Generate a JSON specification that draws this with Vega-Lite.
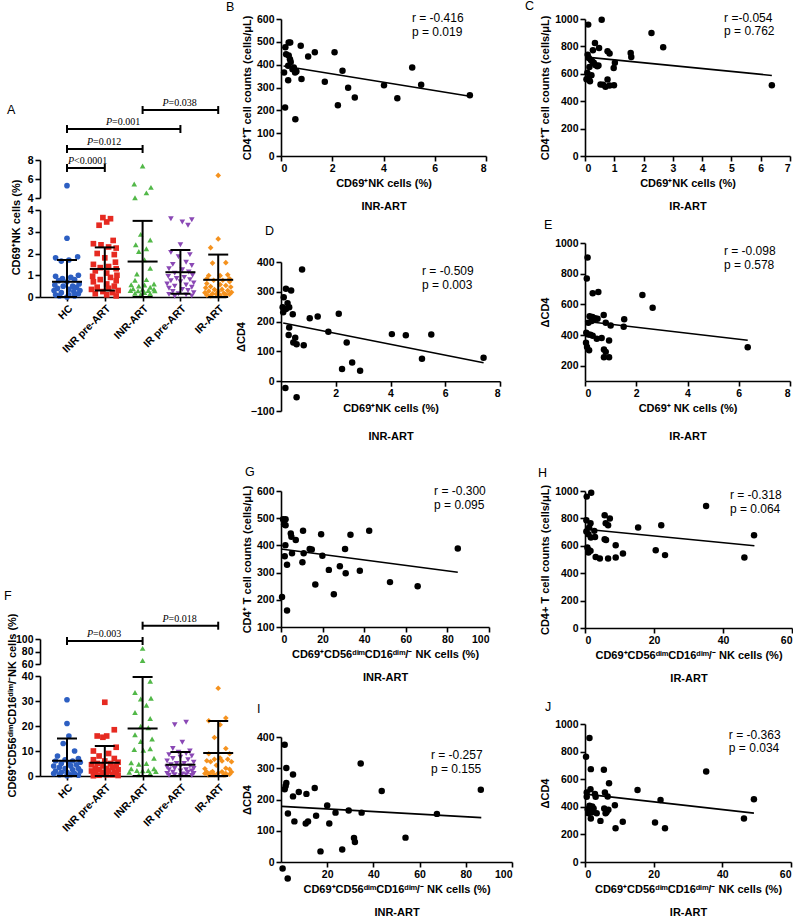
{
"$schema":"https://vega.github.io/schema/vega-lite/v6.json",
"padding":{"left":4,"top":0,"right":0,"bottom":0},
"spacing":-9,
"resolve":{"scale":{"xOffset":"independent"}},
"config":{
 "font":"Liberation Sans",
 "numberFormat":"d",
 "view":{"stroke":null},
 "axis":{"grid":false,"domainColor":"#000","domainWidth":1.6,"tickColor":"#000","tickWidth":1.6,"tickSize":5,"labelColor":"#000","labelFontSize":10.5,"labelFontWeight":"bold","labelFont":"Liberation Sans","titleColor":"#000","titleFontSize":11,"titleFontWeight":"bold","titleFont":"Liberation Sans","labelPadding":2,"titlePadding":4,"labelOverlap":false},
 "title":{"fontSize":12.5,"fontWeight":"normal","font":"Liberation Sans","color":"#000","anchor":"start","frame":"group","offset":0,"baseline":"bottom","orient":"top"}
},
"datasets":{
 "A":[
  {"g":"HC","v":5.3,"j":0},{"g":"HC","v":2.7,"j":0},{"g":"HC","v":1.85,"j":0.28},{"g":"HC","v":1.8,"j":-0.3},{"g":"HC","v":1.7,"j":0.05},{"g":"HC","v":1.65,"j":-0.15},{"g":"HC","v":1.0,"j":0.3},{"g":"HC","v":0.95,"j":-0.3},{"g":"HC","v":0.9,"j":0.1},{"g":"HC","v":0.85,"j":-0.12},{"g":"HC","v":0.8,"j":0.2},{"g":"HC","v":0.75,"j":-0.22},{"g":"HC","v":0.7,"j":0},{"g":"HC","v":0.6,"j":0.32},{"g":"HC","v":0.55,"j":-0.32},{"g":"HC","v":0.5,"j":0.15},{"g":"HC","v":0.5,"j":-0.1},{"g":"HC","v":0.45,"j":0.25},{"g":"HC","v":0.4,"j":-0.25},{"g":"HC","v":0.35,"j":0.05},{"g":"HC","v":0.3,"j":0.34},{"g":"HC","v":0.3,"j":-0.34},{"g":"HC","v":0.25,"j":0.18},{"g":"HC","v":0.2,"j":-0.15},{"g":"HC","v":0.15,"j":0.3},{"g":"HC","v":0.1,"j":-0.3},{"g":"HC","v":0.1,"j":0.05},{"g":"HC","v":0.05,"j":0.2},{"g":"HC","v":0.05,"j":-0.2},{"g":"HC","v":0.0,"j":0},
  {"g":"INR pre-ART","v":3.65,"j":-0.05},{"g":"INR pre-ART","v":3.6,"j":0.15},{"g":"INR pre-ART","v":3.45,"j":0.05},{"g":"INR pre-ART","v":3.3,"j":-0.15},{"g":"INR pre-ART","v":2.6,"j":0.22},{"g":"INR pre-ART","v":2.45,"j":-0.3},{"g":"INR pre-ART","v":2.4,"j":-0.1},{"g":"INR pre-ART","v":2.3,"j":0.1},{"g":"INR pre-ART","v":2.25,"j":0.3},{"g":"INR pre-ART","v":2.0,"j":-0.2},{"g":"INR pre-ART","v":1.95,"j":0.25},{"g":"INR pre-ART","v":1.8,"j":0},{"g":"INR pre-ART","v":1.6,"j":0.28},{"g":"INR pre-ART","v":1.5,"j":-0.3},{"g":"INR pre-ART","v":1.4,"j":0.1},{"g":"INR pre-ART","v":1.35,"j":-0.12},{"g":"INR pre-ART","v":1.3,"j":0.3},{"g":"INR pre-ART","v":1.2,"j":-0.25},{"g":"INR pre-ART","v":1.1,"j":0.05},{"g":"INR pre-ART","v":1.0,"j":0.32},{"g":"INR pre-ART","v":0.95,"j":-0.32},{"g":"INR pre-ART","v":0.9,"j":0.15},{"g":"INR pre-ART","v":0.8,"j":-0.12},{"g":"INR pre-ART","v":0.75,"j":0.3},{"g":"INR pre-ART","v":0.7,"j":-0.3},{"g":"INR pre-ART","v":0.6,"j":0.05},{"g":"INR pre-ART","v":0.5,"j":0.25},{"g":"INR pre-ART","v":0.45,"j":-0.2},{"g":"INR pre-ART","v":0.4,"j":0.1},{"g":"INR pre-ART","v":0.35,"j":-0.35},{"g":"INR pre-ART","v":0.3,"j":0.35},{"g":"INR pre-ART","v":0.25,"j":-0.05},{"g":"INR pre-ART","v":0.2,"j":0.2},{"g":"INR pre-ART","v":0.15,"j":-0.25},{"g":"INR pre-ART","v":0.1,"j":0.05},{"g":"INR pre-ART","v":0.05,"j":0.3},
  {"g":"INR-ART","v":7.37,"j":0},{"g":"INR-ART","v":5.47,"j":-0.22},{"g":"INR-ART","v":5.12,"j":0.22},{"g":"INR-ART","v":4.54,"j":0.1},{"g":"INR-ART","v":4.02,"j":-0.2},{"g":"INR-ART","v":2.88,"j":-0.05},{"g":"INR-ART","v":2.62,"j":0.2},{"g":"INR-ART","v":2.4,"j":-0.18},{"g":"INR-ART","v":2.22,"j":0.1},{"g":"INR-ART","v":2.09,"j":-0.1},{"g":"INR-ART","v":1.71,"j":0.05},{"g":"INR-ART","v":1.32,"j":0.2},{"g":"INR-ART","v":1.06,"j":-0.15},{"g":"INR-ART","v":0.8,"j":0.1},{"g":"INR-ART","v":0.77,"j":-0.2},{"g":"INR-ART","v":0.6,"j":0.3},{"g":"INR-ART","v":0.56,"j":-0.3},{"g":"INR-ART","v":0.55,"j":0.05},{"g":"INR-ART","v":0.5,"j":-0.1},{"g":"INR-ART","v":0.45,"j":0.2},{"g":"INR-ART","v":0.38,"j":-0.25},{"g":"INR-ART","v":0.36,"j":0.3},{"g":"INR-ART","v":0.35,"j":0},{"g":"INR-ART","v":0.3,"j":-0.32},{"g":"INR-ART","v":0.3,"j":0.15},{"g":"INR-ART","v":0.28,"j":-0.12},{"g":"INR-ART","v":0.28,"j":0.32},{"g":"INR-ART","v":0.2,"j":0.05},{"g":"INR-ART","v":0.17,"j":-0.2},{"g":"INR-ART","v":0.16,"j":0.2},{"g":"INR-ART","v":0.12,"j":-0.05},
  {"g":"IR pre-ART","v":3.6,"j":-0.25},{"g":"IR pre-ART","v":3.55,"j":0.3},{"g":"IR pre-ART","v":3.45,"j":0.05},{"g":"IR pre-ART","v":3.3,"j":0.2},{"g":"IR pre-ART","v":2.4,"j":0},{"g":"IR pre-ART","v":2.05,"j":-0.25},{"g":"IR pre-ART","v":1.95,"j":0.25},{"g":"IR pre-ART","v":1.85,"j":-0.05},{"g":"IR pre-ART","v":1.6,"j":0.15},{"g":"IR pre-ART","v":1.5,"j":-0.2},{"g":"IR pre-ART","v":1.45,"j":0.3},{"g":"IR pre-ART","v":1.3,"j":-0.3},{"g":"IR pre-ART","v":1.25,"j":0.05},{"g":"IR pre-ART","v":1.15,"j":0.22},{"g":"IR pre-ART","v":1.1,"j":-0.15},{"g":"IR pre-ART","v":1.0,"j":0.32},{"g":"IR pre-ART","v":0.95,"j":-0.32},{"g":"IR pre-ART","v":0.9,"j":0.1},{"g":"IR pre-ART","v":0.85,"j":-0.1},{"g":"IR pre-ART","v":0.8,"j":0.25},{"g":"IR pre-ART","v":0.75,"j":-0.25},{"g":"IR pre-ART","v":0.7,"j":0},{"g":"IR pre-ART","v":0.65,"j":0.35},{"g":"IR pre-ART","v":0.6,"j":-0.35},{"g":"IR pre-ART","v":0.55,"j":0.15},{"g":"IR pre-ART","v":0.5,"j":-0.15},{"g":"IR pre-ART","v":0.45,"j":0.3},{"g":"IR pre-ART","v":0.4,"j":-0.3},{"g":"IR pre-ART","v":0.35,"j":0.05},{"g":"IR pre-ART","v":0.3,"j":0.2},{"g":"IR pre-ART","v":0.25,"j":-0.2},{"g":"IR pre-ART","v":0.2,"j":0.35},{"g":"IR pre-ART","v":0.15,"j":-0.05},{"g":"IR pre-ART","v":0.12,"j":-0.3},{"g":"IR pre-ART","v":0.1,"j":0.15},{"g":"IR pre-ART","v":0.05,"j":0.3},{"g":"IR pre-ART","v":0.03,"j":-0.15},
  {"g":"IR-ART","v":6.38,"j":0},{"g":"IR-ART","v":2.67,"j":0},{"g":"IR-ART","v":2.27,"j":-0.2},{"g":"IR-ART","v":1.58,"j":0.2},{"g":"IR-ART","v":1.56,"j":-0.15},{"g":"IR-ART","v":1.02,"j":0.25},{"g":"IR-ART","v":0.99,"j":-0.25},{"g":"IR-ART","v":0.98,"j":0.05},{"g":"IR-ART","v":0.84,"j":0.3},{"g":"IR-ART","v":0.84,"j":-0.3},{"g":"IR-ART","v":0.77,"j":0.12},{"g":"IR-ART","v":0.77,"j":-0.12},{"g":"IR-ART","v":0.7,"j":0.3},{"g":"IR-ART","v":0.62,"j":-0.3},{"g":"IR-ART","v":0.57,"j":0.05},{"g":"IR-ART","v":0.53,"j":0.2},{"g":"IR-ART","v":0.48,"j":-0.2},{"g":"IR-ART","v":0.46,"j":0.33},{"g":"IR-ART","v":0.42,"j":-0.33},{"g":"IR-ART","v":0.35,"j":0.1},{"g":"IR-ART","v":0.34,"j":-0.1},{"g":"IR-ART","v":0.3,"j":0.25},{"g":"IR-ART","v":0.27,"j":-0.25},{"g":"IR-ART","v":0.25,"j":0},{"g":"IR-ART","v":0.22,"j":0.35},{"g":"IR-ART","v":0.2,"j":-0.35},{"g":"IR-ART","v":0.17,"j":0.15},{"g":"IR-ART","v":0.15,"j":-0.15},{"g":"IR-ART","v":0.13,"j":0.3},{"g":"IR-ART","v":0.13,"j":-0.05},{"g":"IR-ART","v":0.11,"j":0.2},{"g":"IR-ART","v":0.09,"j":-0.3},{"g":"IR-ART","v":0.08,"j":0.05},{"g":"IR-ART","v":0.05,"j":-0.2}
 ],
 "Asum":[{"g":"HC","m":0.7,"lo":0,"hi":1.7},{"g":"INR pre-ART","m":1.29,"lo":0.3,"hi":2.28},{"g":"INR-ART","m":1.63,"lo":0,"hi":3.5},{"g":"IR pre-ART","m":1.14,"lo":0.15,"hi":2.16},{"g":"IR-ART","m":0.79,"lo":0,"hi":1.95}],
 "Abr":[{"g1":"HC","g2":"INR pre-ART","lv":7.16,"h":0.5,"t":"<0.0001"},{"g1":"HC","g2":"INR-ART","lv":9.16,"h":1,"t":"=0.012"},{"g1":"HC","g2":"IR pre-ART","lv":11.26,"h":1.5,"t":"=0.001"},{"g1":"INR-ART","g2":"IR-ART","lv":13.26,"h":1,"t":"=0.038"}],
 "F":[
  {"g":"HC","v":30.5,"j":0},{"g":"HC","v":21,"j":0},{"g":"HC","v":16,"j":0.05},{"g":"HC","v":13,"j":-0.1},{"g":"HC","v":10,"j":0.2},{"g":"HC","v":8,"j":-0.25},{"g":"HC","v":7,"j":0.3},{"g":"HC","v":6.5,"j":-0.05},{"g":"HC","v":6,"j":0.15},{"g":"HC","v":6,"j":-0.3},{"g":"HC","v":5.5,"j":0.35},{"g":"HC","v":5,"j":-0.15},{"g":"HC","v":5,"j":0.05},{"g":"HC","v":4.5,"j":0.25},{"g":"HC","v":4,"j":-0.35},{"g":"HC","v":4,"j":0.1},{"g":"HC","v":3.5,"j":-0.2},{"g":"HC","v":3,"j":0.3},{"g":"HC","v":3,"j":-0.05},{"g":"HC","v":2.5,"j":0.15},{"g":"HC","v":2,"j":-0.3},{"g":"HC","v":2,"j":0.35},{"g":"HC","v":1.5,"j":0},{"g":"HC","v":1.5,"j":-0.15},{"g":"HC","v":1,"j":0.2},{"g":"HC","v":1,"j":-0.35},{"g":"HC","v":0.5,"j":0.1},{"g":"HC","v":0.5,"j":-0.2},{"g":"HC","v":0.3,"j":0.3},{"g":"HC","v":0.1,"j":0},
  {"g":"INR pre-ART","v":29.5,"j":0},{"g":"INR pre-ART","v":18.5,"j":0.25},{"g":"INR pre-ART","v":16,"j":-0.2},{"g":"INR pre-ART","v":16,"j":0.05},{"g":"INR pre-ART","v":15.5,"j":-0.05},{"g":"INR pre-ART","v":11.5,"j":0.3},{"g":"INR pre-ART","v":10,"j":-0.3},{"g":"INR pre-ART","v":9,"j":0.1},{"g":"INR pre-ART","v":8,"j":-0.15},{"g":"INR pre-ART","v":7,"j":0.25},{"g":"INR pre-ART","v":6.5,"j":-0.3},{"g":"INR pre-ART","v":6,"j":0},{"g":"INR pre-ART","v":5.5,"j":0.35},{"g":"INR pre-ART","v":5,"j":-0.2},{"g":"INR pre-ART","v":5,"j":0.15},{"g":"INR pre-ART","v":4.5,"j":-0.35},{"g":"INR pre-ART","v":4,"j":0.3},{"g":"INR pre-ART","v":4,"j":-0.05},{"g":"INR pre-ART","v":3.5,"j":0.2},{"g":"INR pre-ART","v":3,"j":-0.25},{"g":"INR pre-ART","v":3,"j":0.05},{"g":"INR pre-ART","v":2.5,"j":0.35},{"g":"INR pre-ART","v":2.5,"j":-0.15},{"g":"INR pre-ART","v":2,"j":0.1},{"g":"INR pre-ART","v":2,"j":-0.35},{"g":"INR pre-ART","v":1.5,"j":0.25},{"g":"INR pre-ART","v":1.5,"j":-0.05},{"g":"INR pre-ART","v":1,"j":0.3},{"g":"INR pre-ART","v":1,"j":-0.25},{"g":"INR pre-ART","v":0.5,"j":0.05},{"g":"INR pre-ART","v":0.5,"j":0.2},{"g":"INR pre-ART","v":0.3,"j":-0.15},{"g":"INR pre-ART","v":0.2,"j":0.35},{"g":"INR pre-ART","v":0.1,"j":-0.3},
  {"g":"INR-ART","v":85,"j":0},{"g":"INR-ART","v":65.7,"j":0},{"g":"INR-ART","v":52.4,"j":0},{"g":"INR-ART","v":42.4,"j":0},{"g":"INR-ART","v":37.9,"j":0.2},{"g":"INR-ART","v":33.4,"j":-0.2},{"g":"INR-ART","v":31.1,"j":0.22},{"g":"INR-ART","v":30.8,"j":-0.05},{"g":"INR-ART","v":28.3,"j":0.1},{"g":"INR-ART","v":25.4,"j":-0.2},{"g":"INR-ART","v":23,"j":0.2},{"g":"INR-ART","v":19.9,"j":-0.05},{"g":"INR-ART","v":19.3,"j":0.15},{"g":"INR-ART","v":16.5,"j":-0.2},{"g":"INR-ART","v":14.8,"j":0.25},{"g":"INR-ART","v":13.8,"j":-0.05},{"g":"INR-ART","v":10.9,"j":0.2},{"g":"INR-ART","v":10.6,"j":-0.22},{"g":"INR-ART","v":10.3,"j":0.02},{"g":"INR-ART","v":7.1,"j":0.3},{"g":"INR-ART","v":5.3,"j":-0.3},{"g":"INR-ART","v":5,"j":0.1},{"g":"INR-ART","v":4.7,"j":-0.1},{"g":"INR-ART","v":2.9,"j":0.3},{"g":"INR-ART","v":2.9,"j":-0.3},{"g":"INR-ART","v":2.2,"j":0.15},{"g":"INR-ART","v":2.2,"j":-0.15},{"g":"INR-ART","v":2.1,"j":0},{"g":"INR-ART","v":1.8,"j":0.35},{"g":"INR-ART","v":1.5,"j":-0.35},{"g":"INR-ART","v":1,"j":0.2},{"g":"INR-ART","v":0.5,"j":-0.1},
  {"g":"IR pre-ART","v":21.5,"j":0.15},{"g":"IR pre-ART","v":20.5,"j":-0.15},{"g":"IR pre-ART","v":13.5,"j":0.05},{"g":"IR pre-ART","v":11,"j":-0.2},{"g":"IR pre-ART","v":10,"j":0.25},{"g":"IR pre-ART","v":9.5,"j":-0.05},{"g":"IR pre-ART","v":9,"j":0.15},{"g":"IR pre-ART","v":8.5,"j":-0.3},{"g":"IR pre-ART","v":8,"j":0.3},{"g":"IR pre-ART","v":7.5,"j":0},{"g":"IR pre-ART","v":7,"j":-0.2},{"g":"IR pre-ART","v":6.5,"j":0.2},{"g":"IR pre-ART","v":6,"j":-0.35},{"g":"IR pre-ART","v":5.5,"j":0.35},{"g":"IR pre-ART","v":5,"j":-0.1},{"g":"IR pre-ART","v":5,"j":0.1},{"g":"IR pre-ART","v":4.5,"j":-0.25},{"g":"IR pre-ART","v":4,"j":0.25},{"g":"IR pre-ART","v":4,"j":0},{"g":"IR pre-ART","v":3.5,"j":-0.35},{"g":"IR pre-ART","v":3,"j":0.35},{"g":"IR pre-ART","v":3,"j":-0.15},{"g":"IR pre-ART","v":2.5,"j":0.15},{"g":"IR pre-ART","v":2.5,"j":-0.3},{"g":"IR pre-ART","v":2,"j":0.3},{"g":"IR pre-ART","v":2,"j":0},{"g":"IR pre-ART","v":1.5,"j":-0.2},{"g":"IR pre-ART","v":1.5,"j":0.2},{"g":"IR pre-ART","v":1,"j":-0.35},{"g":"IR pre-ART","v":1,"j":0.35},{"g":"IR pre-ART","v":0.8,"j":0.05},{"g":"IR pre-ART","v":0.5,"j":-0.15},{"g":"IR pre-ART","v":0.5,"j":0.15},{"g":"IR pre-ART","v":0.3,"j":-0.3},{"g":"IR pre-ART","v":0.2,"j":0.3},{"g":"IR pre-ART","v":0.1,"j":0},
  {"g":"IR-ART","v":49,"j":0},{"g":"IR-ART","v":46.2,"j":0},{"g":"IR-ART","v":35.1,"j":0},{"g":"IR-ART","v":23.2,"j":0.2},{"g":"IR-ART","v":22.1,"j":-0.25},{"g":"IR-ART","v":20.5,"j":0.05},{"g":"IR-ART","v":15.4,"j":-0.1},{"g":"IR-ART","v":11,"j":0.2},{"g":"IR-ART","v":8.9,"j":-0.25},{"g":"IR-ART","v":8.9,"j":0.3},{"g":"IR-ART","v":7.2,"j":0.05},{"g":"IR-ART","v":6.7,"j":-0.1},{"g":"IR-ART","v":6.7,"j":0.25},{"g":"IR-ART","v":6.1,"j":-0.3},{"g":"IR-ART","v":6,"j":0.1},{"g":"IR-ART","v":5.7,"j":-0.2},{"g":"IR-ART","v":5.7,"j":0.35},{"g":"IR-ART","v":4.3,"j":-0.05},{"g":"IR-ART","v":3.1,"j":0.2},{"g":"IR-ART","v":2.9,"j":-0.35},{"g":"IR-ART","v":2.7,"j":0.3},{"g":"IR-ART","v":1.8,"j":-0.15},{"g":"IR-ART","v":1.7,"j":0.1},{"g":"IR-ART","v":1.6,"j":-0.3},{"g":"IR-ART","v":1.6,"j":0.35},{"g":"IR-ART","v":1.2,"j":0},{"g":"IR-ART","v":1.2,"j":-0.2},{"g":"IR-ART","v":1,"j":0.2},{"g":"IR-ART","v":1,"j":-0.35},{"g":"IR-ART","v":0.7,"j":0.3},{"g":"IR-ART","v":0.5,"j":-0.1},{"g":"IR-ART","v":0.4,"j":0.15},{"g":"IR-ART","v":0.4,"j":-0.25}
 ],
 "Fsum":[{"g":"HC","m":6.1,"lo":0,"hi":15},{"g":"INR pre-ART","m":5.3,"lo":0,"hi":12},{"g":"INR-ART","m":19,"lo":0,"hi":39.6},{"g":"IR pre-ART","m":4.5,"lo":0,"hi":9.6},{"g":"IR-ART","m":9.2,"lo":0,"hi":22}],
 "Fbr":[{"g1":"HC","g2":"INR-ART","lv":96.8,"h":1,"t":"=0.003"},{"g1":"INR-ART","g2":"IR-ART","lv":121.3,"h":1,"t":"=0.018"}],
 "B":[{"x":0.17,"y":476},{"x":0.30,"y":497},{"x":0.36,"y":497},{"x":0.20,"y":446},{"x":0.30,"y":440},{"x":0.35,"y":424},{"x":0.38,"y":412},{"x":0.28,"y":395},{"x":0.12,"y":366},{"x":0.28,"y":332},{"x":0.50,"y":388},{"x":0.55,"y":366},{"x":0.77,"y":483},{"x":1.06,"y":436},{"x":1.32,"y":454},{"x":1.71,"y":325},{"x":2.09,"y":454},{"x":2.40,"y":373},{"x":2.62,"y":299},{"x":2.88,"y":256},{"x":2.22,"y":222},{"x":0.80,"y":337},{"x":0.16,"y":212},{"x":0.56,"y":161},{"x":4.02,"y":310},{"x":4.54,"y":253},{"x":5.12,"y":388},{"x":5.47,"y":312},{"x":7.37,"y":266},{"x":0.45,"y":380},{"x":0.60,"y":370}],
 "Bfit":[{"x":0.1,"y":394},{"x":7.37,"y":262}],
 "C":[{"x":0.11,"y":959},{"x":0.57,"y":995},{"x":0.34,"y":825},{"x":0.27,"y":772},{"x":0.48,"y":788},{"x":0.09,"y":740},{"x":0.13,"y":716},{"x":0.2,"y":700},{"x":0.25,"y":690},{"x":0.3,"y":680},{"x":0.35,"y":665},{"x":0.42,"y":655},{"x":0.46,"y":660},{"x":0.15,"y":650},{"x":0.08,"y":607},{"x":0.13,"y":570},{"x":0.17,"y":546},{"x":0.22,"y":590},{"x":0.53,"y":522},{"x":0.7,"y":505},{"x":0.84,"y":515},{"x":0.77,"y":558},{"x":0.99,"y":517},{"x":0.77,"y":765},{"x":0.84,"y":748},{"x":0.98,"y":643},{"x":1.02,"y":680},{"x":1.56,"y":752},{"x":1.58,"y":723},{"x":2.27,"y":898},{"x":2.67,"y":794},{"x":6.38,"y":517},{"x":0.62,"y":520},{"x":0.05,"y":560}],
 "Cfit":[{"x":0.05,"y":722},{"x":6.38,"y":588}],
 "D":[{"x":0.18,"y":310},{"x":0.37,"y":304},{"x":0.10,"y":282},{"x":0.06,"y":248},{"x":0.18,"y":242},{"x":0.30,"y":248},{"x":0.08,"y":231},{"x":0.24,"y":262},{"x":0.43,"y":225},{"x":0.30,"y":180},{"x":0.28,"y":155},{"x":0.45,"y":130},{"x":0.52,"y":146},{"x":0.57,"y":124},{"x":0.83,"y":121},{"x":0.77,"y":375},{"x":1.05,"y":211},{"x":1.34,"y":217},{"x":1.73,"y":166},{"x":2.11,"y":226},{"x":2.40,"y":130},{"x":2.23,"y":41},{"x":2.60,"y":63},{"x":2.89,"y":35},{"x":4.05,"y":158},{"x":4.56,"y":154},{"x":5.49,"y":157},{"x":5.15,"y":75},{"x":7.40,"y":79},{"x":0.16,"y":-23},{"x":0.57,"y":-54}],
 "Dfit":[{"x":0.08,"y":195},{"x":7.4,"y":62}],
 "E":[{"x":0.10,"y":906},{"x":0.07,"y":768},{"x":0.30,"y":672},{"x":0.52,"y":681},{"x":2.24,"y":661},{"x":2.64,"y":578},{"x":0.18,"y":523},{"x":0.29,"y":517},{"x":0.39,"y":510},{"x":0.73,"y":530},{"x":0.13,"y":480},{"x":0.26,"y":491},{"x":0.36,"y":502},{"x":0.49,"y":506},{"x":0.81,"y":480},{"x":1.00,"y":462},{"x":1.53,"y":502},{"x":1.51,"y":454},{"x":0.05,"y":414},{"x":0.13,"y":403},{"x":0.21,"y":401},{"x":0.30,"y":395},{"x":0.46,"y":375},{"x":0.65,"y":381},{"x":0.94,"y":364},{"x":0.04,"y":349},{"x":0.08,"y":322},{"x":0.16,"y":300},{"x":0.74,"y":305},{"x":0.81,"y":290},{"x":0.74,"y":255},{"x":0.94,"y":255},{"x":6.35,"y":320}],
 "Efit":[{"x":0.0,"y":490},{"x":6.35,"y":366}],
 "G":[{"x":1.0,"y":496},{"x":2.2,"y":496},{"x":1.5,"y":478},{"x":2.2,"y":474},{"x":4.7,"y":444},{"x":5.0,"y":432},{"x":7.1,"y":420},{"x":10.6,"y":454},{"x":19.3,"y":441},{"x":33.4,"y":439},{"x":42.4,"y":454},{"x":2.1,"y":401},{"x":1.8,"y":360},{"x":2.9,"y":329},{"x":5.3,"y":371},{"x":10.9,"y":371},{"x":10.3,"y":338},{"x":13.8,"y":387},{"x":14.8,"y":385},{"x":19.9,"y":362},{"x":23.0,"y":310},{"x":28.3,"y":323},{"x":30.8,"y":387},{"x":31.1,"y":298},{"x":37.9,"y":307},{"x":16.5,"y":256},{"x":25.4,"y":220},{"x":52.4,"y":265},{"x":65.7,"y":250},{"x":85.0,"y":389},{"x":0.5,"y":210},{"x":2.9,"y":161}],
 "Gfit":[{"x":0.0,"y":387},{"x":85,"y":301}],
 "H":[{"x":0.5,"y":959},{"x":1.8,"y":988},{"x":0.4,"y":786},{"x":1.6,"y":765},{"x":1.2,"y":733},{"x":2.7,"y":709},{"x":0.4,"y":704},{"x":1.0,"y":684},{"x":1.7,"y":660},{"x":2.9,"y":665},{"x":5.7,"y":823},{"x":7.2,"y":799},{"x":6.0,"y":765},{"x":6.7,"y":750},{"x":5.7,"y":648},{"x":6.1,"y":643},{"x":8.9,"y":604},{"x":0.7,"y":587},{"x":1.2,"y":568},{"x":1.6,"y":563},{"x":1.0,"y":551},{"x":3.1,"y":519},{"x":4.3,"y":507},{"x":6.7,"y":507},{"x":8.9,"y":515},{"x":11.0,"y":544},{"x":15.4,"y":733},{"x":20.5,"y":568},{"x":22.1,"y":750},{"x":23.2,"y":532},{"x":35.1,"y":891},{"x":46.2,"y":515},{"x":49.0,"y":677}],
 "Hfit":[{"x":0.2,"y":721},{"x":49.1,"y":600}],
 "I":[{"x":1.6,"y":375},{"x":2.3,"y":301},{"x":5.2,"y":280},{"x":2.3,"y":253},{"x":2.0,"y":243},{"x":1.6,"y":233},{"x":5.2,"y":210},{"x":7.7,"y":224},{"x":11.0,"y":218},{"x":14.6,"y":237},{"x":3.0,"y":155},{"x":5.8,"y":130},{"x":10.7,"y":123},{"x":11.7,"y":130},{"x":15.2,"y":148},{"x":20.0,"y":181},{"x":20.9,"y":123},{"x":23.6,"y":158},{"x":29.3,"y":165},{"x":34.9,"y":158},{"x":34.5,"y":315},{"x":43.6,"y":227},{"x":67.5,"y":154},{"x":31.6,"y":77},{"x":32.0,"y":64},{"x":53.9,"y":78},{"x":17.1,"y":34},{"x":26.5,"y":40},{"x":86.5,"y":231},{"x":0.7,"y":-21},{"x":2.9,"y":-53}],
 "Ifit":[{"x":0.3,"y":178},{"x":86.7,"y":142}],
 "J":[{"x":1.3,"y":898},{"x":0.3,"y":763},{"x":1.7,"y":673},{"x":5.5,"y":668},{"x":35.3,"y":656},{"x":1.6,"y":528},{"x":0.5,"y":504},{"x":0.5,"y":472},{"x":2.9,"y":492},{"x":3.1,"y":472},{"x":5.8,"y":504},{"x":7.0,"y":571},{"x":6.6,"y":475},{"x":15.3,"y":521},{"x":22.0,"y":450},{"x":0.8,"y":383},{"x":1.3,"y":407},{"x":2.1,"y":402},{"x":2.5,"y":387},{"x":1.0,"y":354},{"x":1.9,"y":358},{"x":3.4,"y":354},{"x":5.6,"y":387},{"x":6.3,"y":363},{"x":6.8,"y":378},{"x":6.0,"y":354},{"x":8.7,"y":412},{"x":1.7,"y":315},{"x":4.5,"y":298},{"x":11.0,"y":291},{"x":8.9,"y":245},{"x":20.4,"y":286},{"x":23.3,"y":245},{"x":46.3,"y":315},{"x":49.2,"y":455}],
 "Jfit":[{"x":0.2,"y":492},{"x":49.2,"y":354}]
},
"hconcat":[
 {"resolve":{"scale":{"xOffset":"independent"}},"spacing":12,"bounds":"flush",
  "vconcat":[
   {"width":1,"height":129,"data":{"values":[]},"mark":{"type":"point","opacity":0}},
   {"width":186,"height":38,
    "title":{"text":"A","dx":-33,"dy":22},
    "layer":[
     {"data":{"name":"A"},"transform":[{"filter":"datum.v>4"}],"mark":{"type":"point","filled":true,"size":32,"opacity":1,"strokeWidth":0},
      "encoding":{
       "x":{"field":"g","type":"nominal","scale":{"type":"point","domain":["HC","INR pre-ART","INR-ART","IR pre-ART","IR-ART"],"padding":0.46,"align":0.776},"axis":null},
       "xOffset":{"field":"j","type":"quantitative","scale":{"domain":[-0.5,0.5],"range":[-19,19]}},
       "y":{"field":"v","type":"quantitative","scale":{"domain":[4,8],"nice":false,"zero":false},"axis":{"values":[4,6,8],"tickCount":20,"title":null,"labelOverlap":false}},
       "shape":{"field":"g","type":"nominal","scale":{"domain":["HC","INR pre-ART","INR-ART","IR pre-ART","IR-ART"],"range":["circle","square","triangle-up","triangle-down","diamond"]},"legend":null},
       "color":{"field":"g","type":"nominal","scale":{"domain":["HC","INR pre-ART","INR-ART","IR pre-ART","IR-ART"],"range":["#2D5FC2","#E62A21","#52B848","#8A48B5","#F5921E"]},"legend":null}}},
     {"data":{"name":"Abr"},"mark":{"type":"rule","color":"#000","strokeWidth":2},"encoding":{"x":{"field":"g1","type":"nominal","axis":null},"x2":{"field":"g2"},"y":{"field":"lv","type":"quantitative"}}},
     {"data":{"name":"Abr"},"mark":{"type":"point","shape":"M0,-1L0,1","size":64,"filled":false,"stroke":"#000","strokeWidth":2,"opacity":1},"encoding":{"x":{"field":"g1","type":"nominal","axis":null},"y":{"field":"lv","type":"quantitative"}}},
     {"data":{"name":"Abr"},"mark":{"type":"point","shape":"M0,-1L0,1","size":64,"filled":false,"stroke":"#000","strokeWidth":2,"opacity":1},"encoding":{"x":{"field":"g2","type":"nominal","axis":null},"y":{"field":"lv","type":"quantitative"}}},
     {"data":{"name":"Abr"},"mark":{"type":"text","text":"P","color":"#000","font":"Liberation Serif","fontStyle":"italic","fontSize":10,"align":"right","baseline":"bottom","dx":-12,"dy":-2},"encoding":{"x":{"field":"g1","type":"nominal","axis":null},"xOffset":{"field":"h","type":"quantitative","scale":{"domain":[-0.5,0.5],"range":[-19,19]}},"y":{"field":"lv","type":"quantitative"}}},
     {"data":{"name":"Abr"},"mark":{"type":"text","color":"#000","font":"Liberation Serif","fontSize":10,"align":"left","baseline":"bottom","dx":-12,"dy":-2},"encoding":{"x":{"field":"g1","type":"nominal","axis":null},"xOffset":{"field":"h","type":"quantitative","scale":{"domain":[-0.5,0.5],"range":[-19,19]}},"y":{"field":"lv","type":"quantitative"},"text":{"field":"t"}}}
    ]},
   {"width":186,"height":87,
    "layer":[
     {"data":{"name":"A"},"transform":[{"filter":"datum.v<=4"}],"mark":{"type":"point","filled":true,"size":32,"opacity":1,"strokeWidth":0},
      "encoding":{
       "x":{"field":"g","type":"nominal","scale":{"type":"point","domain":["HC","INR pre-ART","INR-ART","IR pre-ART","IR-ART"],"padding":0.46,"align":0.776},"axis":{"title":null,"labelAngle":-45,"tickSize":4,"labelOverlap":false}},
       "xOffset":{"field":"j","type":"quantitative","scale":{"domain":[-0.5,0.5],"range":[-19,19]}},
       "y":{"field":"v","type":"quantitative","scale":{"domain":[0,4],"nice":false},"axis":{"values":[0,1,2,3,4],"tickCount":20,"labelOverlap":false,"title":"CD69⁺NK cells (%)","titleX":-19,"titleY":17,"titleAngle":270,"titleBaseline":"bottom","titleAlign":"center"}},
       "shape":{"field":"g","type":"nominal","scale":{"domain":["HC","INR pre-ART","INR-ART","IR pre-ART","IR-ART"],"range":["circle","square","triangle-up","triangle-down","diamond"]},"legend":null},
       "color":{"field":"g","type":"nominal","scale":{"domain":["HC","INR pre-ART","INR-ART","IR pre-ART","IR-ART"],"range":["#2D5FC2","#E62A21","#52B848","#8A48B5","#F5921E"]},"legend":null}}},
     {"data":{"name":"Asum"},"mark":{"type":"rule","color":"#000","strokeWidth":2},"encoding":{"x":{"field":"g","type":"nominal"},"y":{"field":"lo","type":"quantitative"},"y2":{"field":"hi"}}},
     {"data":{"name":"Asum"},"mark":{"type":"tick","color":"#000","size":30,"thickness":2,"opacity":1},"encoding":{"x":{"field":"g","type":"nominal"},"y":{"field":"m","type":"quantitative"}}},
     {"data":{"name":"Asum"},"mark":{"type":"tick","color":"#000","size":20,"thickness":2,"opacity":1},"encoding":{"x":{"field":"g","type":"nominal"},"y":{"field":"hi","type":"quantitative"}}},
     {"data":{"name":"Asum"},"mark":{"type":"tick","color":"#000","size":20,"thickness":2,"opacity":1},"encoding":{"x":{"field":"g","type":"nominal"},"y":{"field":"lo","type":"quantitative"}}}
    ]},
   {"width":1,"height":318,"data":{"values":[]},"mark":{"type":"point","opacity":0}},
   {"width":186,"height":25,
    "title":{"text":"F","dx":-36,"dy":-7},
    "layer":[
     {"data":{"name":"F"},"transform":[{"filter":"datum.v>=60"}],"mark":{"type":"point","filled":true,"size":32,"opacity":1,"strokeWidth":0},
      "encoding":{
       "x":{"field":"g","type":"nominal","scale":{"type":"point","domain":["HC","INR pre-ART","INR-ART","IR pre-ART","IR-ART"],"padding":0.46,"align":0.776},"axis":null},
       "xOffset":{"field":"j","type":"quantitative","scale":{"domain":[-0.5,0.5],"range":[-19,19]}},
       "y":{"field":"v","type":"quantitative","scale":{"domain":[60,100],"nice":false,"zero":false},"axis":{"values":[60,80,100],"tickCount":20,"title":null,"labelOverlap":false}},
       "shape":{"field":"g","type":"nominal","scale":{"domain":["HC","INR pre-ART","INR-ART","IR pre-ART","IR-ART"],"range":["circle","square","triangle-up","triangle-down","diamond"]},"legend":null},
       "color":{"field":"g","type":"nominal","scale":{"domain":["HC","INR pre-ART","INR-ART","IR pre-ART","IR-ART"],"range":["#2D5FC2","#E62A21","#52B848","#8A48B5","#F5921E"]},"legend":null}}},
     {"data":{"name":"Fbr"},"mark":{"type":"rule","color":"#000","strokeWidth":2},"encoding":{"x":{"field":"g1","type":"nominal","axis":null},"x2":{"field":"g2"},"y":{"field":"lv","type":"quantitative"}}},
     {"data":{"name":"Fbr"},"mark":{"type":"point","shape":"M0,-1L0,1","size":64,"filled":false,"stroke":"#000","strokeWidth":2,"opacity":1},"encoding":{"x":{"field":"g1","type":"nominal","axis":null},"y":{"field":"lv","type":"quantitative"}}},
     {"data":{"name":"Fbr"},"mark":{"type":"point","shape":"M0,-1L0,1","size":64,"filled":false,"stroke":"#000","strokeWidth":2,"opacity":1},"encoding":{"x":{"field":"g2","type":"nominal","axis":null},"y":{"field":"lv","type":"quantitative"}}},
     {"data":{"name":"Fbr"},"mark":{"type":"text","text":"P","color":"#000","font":"Liberation Serif","fontStyle":"italic","fontSize":10,"align":"right","baseline":"bottom","dx":-12,"dy":-2},"encoding":{"x":{"field":"g1","type":"nominal","axis":null},"xOffset":{"field":"h","type":"quantitative","scale":{"domain":[-0.5,0.5],"range":[-19,19]}},"y":{"field":"lv","type":"quantitative"}}},
     {"data":{"name":"Fbr"},"mark":{"type":"text","color":"#000","font":"Liberation Serif","fontSize":10,"align":"left","baseline":"bottom","dx":-12,"dy":-2},"encoding":{"x":{"field":"g1","type":"nominal","axis":null},"xOffset":{"field":"h","type":"quantitative","scale":{"domain":[-0.5,0.5],"range":[-19,19]}},"y":{"field":"lv","type":"quantitative"},"text":{"field":"t"}}}
    ]},
   {"width":186,"height":100,
    "layer":[
     {"data":{"name":"F"},"transform":[{"filter":"datum.v<=40"}],"mark":{"type":"point","filled":true,"size":32,"opacity":1,"strokeWidth":0},
      "encoding":{
       "x":{"field":"g","type":"nominal","scale":{"type":"point","domain":["HC","INR pre-ART","INR-ART","IR pre-ART","IR-ART"],"padding":0.46,"align":0.776},"axis":{"title":null,"labelAngle":-45,"tickSize":4,"labelOverlap":false}},
       "xOffset":{"field":"j","type":"quantitative","scale":{"domain":[-0.5,0.5],"range":[-19,19]}},
       "y":{"field":"v","type":"quantitative","scale":{"domain":[0,40],"nice":false},"axis":{"values":[0,10,20,30,40],"tickCount":20,"labelOverlap":false,"title":"CD69⁺CD56ᵈⁱᵐCD16ᵈⁱᵐ/⁻NK cells (%)","titleX":-23,"titleY":29,"titleAngle":270,"titleBaseline":"bottom","titleAlign":"center"}},
       "shape":{"field":"g","type":"nominal","scale":{"domain":["HC","INR pre-ART","INR-ART","IR pre-ART","IR-ART"],"range":["circle","square","triangle-up","triangle-down","diamond"]},"legend":null},
       "color":{"field":"g","type":"nominal","scale":{"domain":["HC","INR pre-ART","INR-ART","IR pre-ART","IR-ART"],"range":["#2D5FC2","#E62A21","#52B848","#8A48B5","#F5921E"]},"legend":null}}},
     {"data":{"name":"Fsum"},"mark":{"type":"rule","color":"#000","strokeWidth":2},"encoding":{"x":{"field":"g","type":"nominal"},"y":{"field":"lo","type":"quantitative"},"y2":{"field":"hi"}}},
     {"data":{"name":"Fsum"},"mark":{"type":"tick","color":"#000","size":30,"thickness":2,"opacity":1},"encoding":{"x":{"field":"g","type":"nominal"},"y":{"field":"m","type":"quantitative"}}},
     {"data":{"name":"Fsum"},"mark":{"type":"tick","color":"#000","size":20,"thickness":2,"opacity":1},"encoding":{"x":{"field":"g","type":"nominal"},"y":{"field":"hi","type":"quantitative"}}},
     {"data":{"name":"Fsum"},"mark":{"type":"tick","color":"#000","size":20,"thickness":2,"opacity":1},"encoding":{"x":{"field":"g","type":"nominal"},"y":{"field":"lo","type":"quantitative"}}}
    ]}
  ]},
 {"spacing":12,
  "hconcat":[
 {"spacing":20,"bounds":"flush",
  "vconcat":[
   {"width":205,"height":137,"title":{"text":"B","dx":-55,"dy":5},
    "layer":[
     {"data":{"name":"B"},"mark":{"type":"circle","size":42,"color":"#000","opacity":1},
      "encoding":{"x":{"field":"x","type":"quantitative","scale":{"domain":[0,8],"nice":false},"axis":{"values":[0,2,4,6,8],"tickCount":20,"labelOverlap":false,"title":["CD69⁺NK cells (%)","INR-ART"],"titleLineHeight":23}},
                  "y":{"field":"y","type":"quantitative","scale":{"domain":[0,600],"nice":false},"axis":{"values":[0,100,200,300,400,500,600],"tickCount":20,"labelOverlap":false,"title":"CD4⁺T cell counts (cells/μL)"}}}},
     {"data":{"name":"Bfit"},"mark":{"type":"line","color":"#000","strokeWidth":1.6},"encoding":{"x":{"field":"x","type":"quantitative"},"y":{"field":"y","type":"quantitative"}}},
     {"data":{"values":[{}]},"mark":{"type":"text","align":"left","baseline":"top","fontSize":12,"lineHeight":13.5,"color":"#000"},"encoding":{"x":{"datum":5.11},"y":{"datum":626},"text":{"value":["r = -0.416","p = 0.019"]}}}
    ]},
   {"width":1,"height":66,"data":{"values":[]},"mark":{"type":"point","opacity":0}},
   {"width":219,"height":149,"title":{"text":"D","dx":-16,"dy":-16},
    "layer":[
     {"data":{"name":"D"},"mark":{"type":"circle","size":42,"color":"#000","opacity":1},
      "encoding":{"x":{"field":"x","type":"quantitative","scale":{"domain":[0,8],"nice":false},"axis":{"values":[2,4,6,8],"tickCount":20,"labelOverlap":false,"offset":-29.8,"title":["CD69⁺NK cells (%)","INR-ART"],"titleLineHeight":28}},
                  "y":{"field":"y","type":"quantitative","scale":{"domain":[-100,400],"nice":false},"axis":{"values":[-100,0,100,200,300,400],"tickCount":20,"labelOverlap":false,"title":"ΔCD4"}}}},
     {"data":{"name":"Dfit"},"mark":{"type":"line","color":"#000","strokeWidth":1.6},"encoding":{"x":{"field":"x","type":"quantitative"},"y":{"field":"y","type":"quantitative"}}},
     {"data":{"values":[{}]},"mark":{"type":"text","align":"left","baseline":"top","fontSize":12,"lineHeight":13.5,"color":"#000"},"encoding":{"x":{"datum":5.15},"y":{"datum":386},"text":{"value":["r = -0.509","p = 0.003"]}}}
    ]},
   {"width":1,"height":40,"data":{"values":[]},"mark":{"type":"point","opacity":0}},
   {"width":208,"height":136,"title":{"text":"G","dx":-36,"dy":-3},
    "layer":[
     {"data":{"name":"G"},"mark":{"type":"circle","size":42,"color":"#000","opacity":1},
      "encoding":{"x":{"field":"x","type":"quantitative","scale":{"domain":[0,100],"nice":false},"axis":{"values":[0,20,40,60,80,100],"tickCount":20,"labelOverlap":false,"title":["CD69⁺CD56ᵈⁱᵐCD16ᵈⁱᵐ/⁻ NK cells (%)","INR-ART"],"titleLineHeight":23}},
                  "y":{"field":"y","type":"quantitative","scale":{"domain":[100,600],"nice":false,"zero":false},"axis":{"values":[100,200,300,400,500,600],"tickCount":20,"labelOverlap":false,"title":"CD4⁺ T cell counts (cells/μL)"}}}},
     {"data":{"name":"Gfit"},"mark":{"type":"line","color":"#000","strokeWidth":1.6},"encoding":{"x":{"field":"x","type":"quantitative"},"y":{"field":"y","type":"quantitative"}}},
     {"data":{"values":[{}]},"mark":{"type":"text","align":"left","baseline":"top","fontSize":12,"lineHeight":13.5,"color":"#000"},"encoding":{"x":{"datum":73.6},"y":{"datum":618},"text":{"value":["r = -0.300","p = 0.095"]}}}
    ]},
   {"width":1,"height":70,"data":{"values":[]},"mark":{"type":"point","opacity":0}},
   {"width":231,"height":125,"title":{"text":"I","dx":-24,"dy":-13},
    "layer":[
     {"data":{"name":"I"},"mark":{"type":"circle","size":42,"color":"#000","opacity":1},
      "encoding":{"x":{"field":"x","type":"quantitative","scale":{"domain":[0,100],"nice":false},"axis":{"values":[20,40,60,80,100],"tickCount":20,"labelOverlap":false,"title":["CD69⁺CD56ᵈⁱᵐCD16ᵈⁱᵐ/⁻ NK cells (%)","INR-ART"],"titleLineHeight":23}},
                  "y":{"field":"y","type":"quantitative","scale":{"domain":[0,400],"nice":false},"axis":{"values":[0,100,200,300,400],"tickCount":20,"labelOverlap":false,"title":"ΔCD4"}}}},
     {"data":{"name":"Ifit"},"mark":{"type":"line","color":"#000","strokeWidth":1.6},"encoding":{"x":{"field":"x","type":"quantitative"},"y":{"field":"y","type":"quantitative"}}},
     {"data":{"values":[{}]},"mark":{"type":"text","align":"left","baseline":"top","fontSize":12,"lineHeight":13.5,"color":"#000"},"encoding":{"x":{"datum":64.9},"y":{"datum":358},"text":{"value":["r = -0.257","p = 0.155"]}}}
    ]}
  ]},
 {"spacing":20,"bounds":"flush",
  "vconcat":[
   {"width":205,"height":137,"title":{"text":"C","dx":-60,"dy":5},
    "layer":[
     {"data":{"name":"C"},"mark":{"type":"circle","size":42,"color":"#000","opacity":1},
      "encoding":{"x":{"field":"x","type":"quantitative","scale":{"domain":[0,7],"nice":false},"axis":{"values":[0,1,2,3,4,5,6,7],"tickCount":20,"labelOverlap":false,"title":["CD69⁺NK cells (%)","IR-ART"],"titleLineHeight":23}},
                  "y":{"field":"y","type":"quantitative","scale":{"domain":[0,1000],"nice":false},"axis":{"values":[0,200,400,600,800,1000],"tickCount":20,"labelOverlap":false,"title":"CD4⁺T cell counts (cells/μL)"}}}},
     {"data":{"name":"Cfit"},"mark":{"type":"line","color":"#000","strokeWidth":1.6},"encoding":{"x":{"field":"x","type":"quantitative"},"y":{"field":"y","type":"quantitative"}}},
     {"data":{"values":[{}]},"mark":{"type":"text","align":"left","baseline":"top","fontSize":12,"lineHeight":13.5,"color":"#000"},"encoding":{"x":{"datum":4.75},"y":{"datum":1044},"text":{"value":["r =-0.054","p = 0.762"]}}}
    ]},
   {"width":1,"height":47,"data":{"values":[]},"mark":{"type":"point","opacity":0}},
   {"width":205,"height":138,"title":{"text":"E","dx":-41,"dy":-3},
    "layer":[
     {"data":{"name":"E"},"mark":{"type":"circle","size":42,"color":"#000","opacity":1},
      "encoding":{"x":{"field":"x","type":"quantitative","scale":{"domain":[0,8],"nice":false},"axis":{"values":[0,2,4,6,8],"tickCount":20,"labelOverlap":false,"title":["CD69⁺ NK cells (%)","IR-ART"],"titleLineHeight":28}},
                  "y":{"field":"y","type":"quantitative","scale":{"domain":[100,1000],"nice":false,"zero":false},"axis":{"values":[200,400,600,800,1000],"tickCount":20,"labelOverlap":false,"title":"ΔCD4"}}}},
     {"data":{"name":"Efit"},"mark":{"type":"line","color":"#000","strokeWidth":1.6},"encoding":{"x":{"field":"x","type":"quantitative"},"y":{"field":"y","type":"quantitative"}}},
     {"data":{"values":[{}]},"mark":{"type":"text","align":"left","baseline":"top","fontSize":12,"lineHeight":13.5,"color":"#000"},"encoding":{"x":{"datum":5.42},"y":{"datum":980},"text":{"value":["r = -0.098","p = 0.578"]}}}
    ]},
   {"width":1,"height":70,"data":{"values":[]},"mark":{"type":"point","opacity":0}},
   {"width":207,"height":137,"title":{"text":"H","dx":-47,"dy":-1},
    "layer":[
     {"data":{"name":"H"},"mark":{"type":"circle","size":42,"color":"#000","opacity":1},
      "encoding":{"x":{"field":"x","type":"quantitative","scale":{"domain":[0,60],"nice":false},"axis":{"values":[0,20,40,60],"tickCount":20,"labelOverlap":false,"title":["CD69⁺CD56ᵈⁱᵐCD16ᵈⁱᵐ/⁻ NK cells (%)","IR-ART"],"titleLineHeight":23}},
                  "y":{"field":"y","type":"quantitative","scale":{"domain":[0,1000],"nice":false},"axis":{"values":[0,200,400,600,800,1000],"tickCount":20,"labelOverlap":false,"title":"CD4+ T cell counts (cells/μL)"}}}},
     {"data":{"name":"Hfit"},"mark":{"type":"line","color":"#000","strokeWidth":1.6},"encoding":{"x":{"field":"x","type":"quantitative"},"y":{"field":"y","type":"quantitative"}}},
     {"data":{"values":[{}]},"mark":{"type":"text","align":"left","baseline":"top","fontSize":12,"lineHeight":13.5,"color":"#000"},"encoding":{"x":{"datum":42.0},"y":{"datum":1007},"text":{"value":["r = -0.318","p = 0.064"]}}}
    ]},
   {"width":1,"height":56,"data":{"values":[]},"mark":{"type":"point","opacity":0}},
   {"width":206,"height":138,"title":{"text":"J","dx":-40,"dy":-2},
    "layer":[
     {"data":{"name":"J"},"mark":{"type":"circle","size":42,"color":"#000","opacity":1},
      "encoding":{"x":{"field":"x","type":"quantitative","scale":{"domain":[0,60],"nice":false},"axis":{"values":[0,20,40,60],"tickCount":20,"labelOverlap":false,"title":["CD69⁺CD56ᵈⁱᵐCD16ᵈⁱᵐ/⁻ NK cells (%)","IR-ART"],"titleLineHeight":23}},
                  "y":{"field":"y","type":"quantitative","scale":{"domain":[0,1000],"nice":false},"axis":{"values":[0,200,400,600,800,1000],"tickCount":20,"labelOverlap":false,"title":"ΔCD4"}}}},
     {"data":{"name":"Jfit"},"mark":{"type":"line","color":"#000","strokeWidth":1.6},"encoding":{"x":{"field":"x","type":"quantitative"},"y":{"field":"y","type":"quantitative"}}},
     {"data":{"values":[{}]},"mark":{"type":"text","align":"left","baseline":"top","fontSize":12,"lineHeight":13.5,"color":"#000"},"encoding":{"x":{"datum":41.9},"y":{"datum":957},"text":{"value":["r = -0.363","p = 0.034"]}}}
    ]}
  ]}
 ]}
]
}
